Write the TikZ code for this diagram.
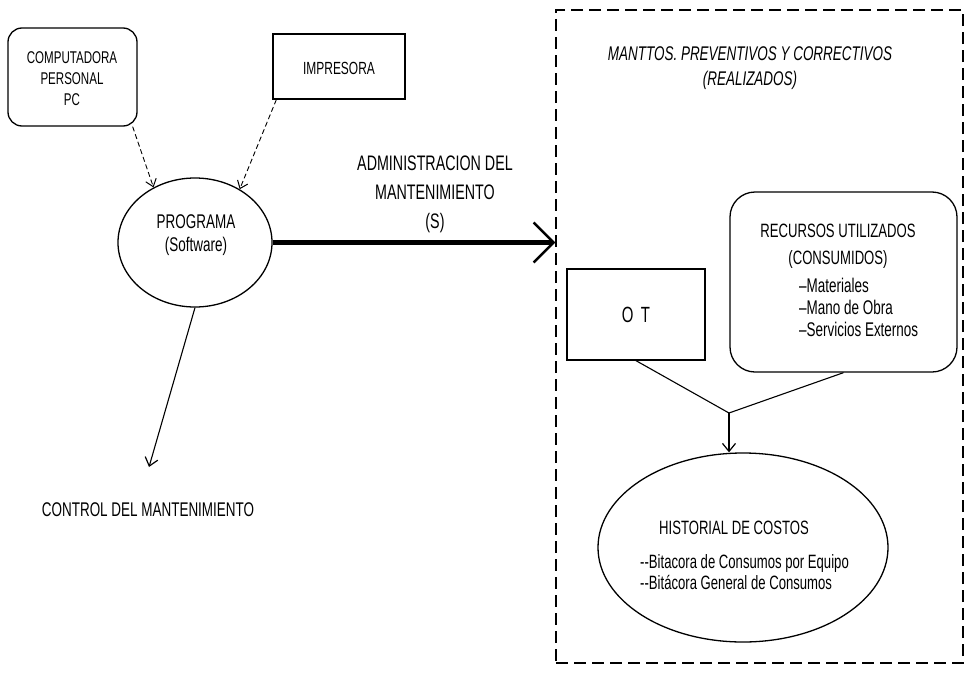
\documentclass[tikz,border=0pt]{standalone}
\usepackage{fontspec}
\newfontfamily\nar[FakeStretch=0.68]{Liberation Sans}
\usetikzlibrary{arrows.meta,shapes.geometric,calc}

\begin{document}
\begin{tikzpicture}[x=1pt,y=-1pt,
  txt/.style={font=\nar\fontsize{#1}{#1}\selectfont, align=center, inner sep=0pt},
  shape line/.style={draw, line width=1.3pt},
  boxnode/.style={shape line, rectangle, inner sep=0pt},
  ovalnode/.style={shape line, ellipse, inner sep=0pt},
  dasharr/.style={line width=0.9pt, dash pattern=on 5pt off 3pt,
    -{Straight Barb[length=7pt,width=11pt,line width=1pt]}},
  arr/.style={line width=1.1pt, -{Straight Barb[length=8pt,width=13pt,line width=1.2pt]}},
  bigarr/.style={line width=5pt, -{Straight Barb[length=20pt,width=40pt,line width=2.4pt]}},
  link/.style={line width=1.1pt}]
\useasboundingbox (0,0) rectangle (966,680);

% left side: hardware feeding the program
\node[boxnode, rounded corners=14pt, minimum width=129pt, minimum height=98pt] (comp) at (72.5,77) {};
\node[txt=17, font=\nar\fontsize{17}{21}\selectfont] (compT) at (72,79) {COMPUTADORA\\PERSONAL\\PC};

\node[boxnode, minimum width=132pt, minimum height=65pt] (imp) at (339,66.5) {};
\node[txt=17.6] (impT) at (339,68) {IMPRESORA};

\node[ovalnode, minimum width=154pt, minimum height=129pt] (prog) at (195,242.5) {};
\node[txt=19.8, font=\nar\fontsize{19.8}{23}\selectfont] (progT) at (196,235) {PROGRAMA\\(Software)};

\node[txt=21, font=\nar\fontsize{21}{29}\selectfont] (adm) at (435,194) {ADMINISTRACION DEL\\MANTENIMIENTO\\(S)};

\node[txt=19.8] (ctrl) at (148,510) {CONTROL DEL MANTENIMIENTO};
\coordinate (ctrlTip) at (149,467);

% right side: maintenance records
\node[draw, line width=1.3pt, dash pattern=on 12pt off 6pt, rectangle, inner sep=0pt,
  minimum width=407pt, minimum height=653pt] (mbox) at (759.5,336.5) {};
\node[txt=19.8, font=\nar\itshape\fontsize{19.8}{25}\selectfont] (mtitle) at (750,68)
  {MANTTOS. PREVENTIVOS Y CORRECTIVOS\\(REALIZADOS)};

\node[boxnode, minimum width=138pt, minimum height=91pt, font=\nar\fontsize{22}{22}\selectfont] (ot) at (636,314.5) {O\,\,T};

\node[boxnode, rounded corners=25pt, minimum width=227pt, minimum height=180pt] (rec) at (843.5,282) {};
\node[txt=19.3, font=\nar\fontsize{19.3}{27}\selectfont] (recT) at (838,246.5) {RECURSOS UTILIZADOS\\(CONSUMIDOS)};
\node[txt=19.8, font=\nar\fontsize{19.8}{22}\selectfont, align=left, anchor=west] (recL) at (799,307)
  {–Materiales\\–Mano de Obra\\–Servicios Externos};

\coordinate (j) at (729,413);

\node[ovalnode, minimum width=290pt, minimum height=189pt] (hist) at (743,547.5) {};
\node[txt=19.3] (histT) at (734,528) {HISTORIAL DE COSTOS};
\node[txt=19.3, font=\nar\fontsize{19.3}{21}\selectfont, align=left, anchor=west] (histL) at (640,572.5)
  {-{}-Bitacora de Consumos por Equipo\\-{}-Bitácora General de Consumos};

% connectors
\draw[dasharr] ([xshift=-5pt]comp.south east) -- (prog.127);
\draw[dasharr] ([xshift=4pt]imp.south west) -- (prog.50);
\draw[arr] (prog.south) -- (ctrlTip);
\draw[bigarr] (prog.east) -- (prog.east -| mbox.west);
\draw[link] (ot.south) -- (j);
\draw[link] (rec.south) -- (j);
\draw[arr] (j) -- (j |- hist.north);
\end{tikzpicture}
\end{document}
